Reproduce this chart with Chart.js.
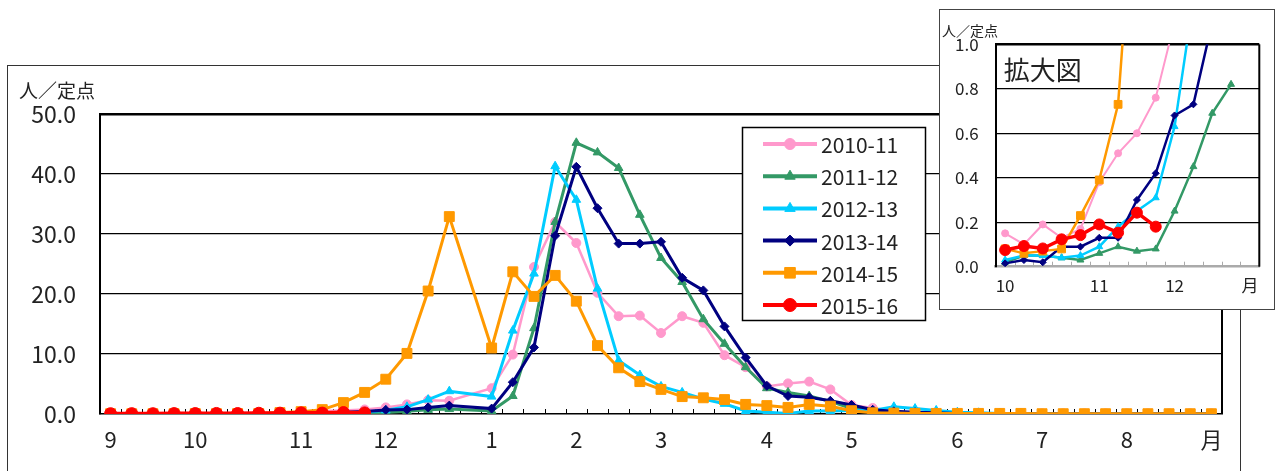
<!DOCTYPE html>
<html>
<head>
<meta charset="utf-8">
<script src="https://cdn.jsdelivr.net/npm/chart.js@4.4.1/dist/chart.umd.min.js"></script>
<style>
  body { margin: 0; background: #fff; }
  #wrap { position: relative; width: 1276px; height: 471px; overflow: hidden; }
  #mainChart { position: absolute; left: 0; top: 0; }
  #zoomChart { position: absolute; left: 939px; top: 9px; background: #fff; }
</style>
</head>
<body>
<div id="wrap">
  <canvas id="mainChart" width="1276" height="471"></canvas>
  <canvas id="zoomChart" width="336" height="301"></canvas>
</div>
<script>
// weekly ticks, Sep -> Aug (only month starts are labelled)
var monthTicks = ['9','','','', '10','','','','', '11','','','', '12','','','','',
  '1','','','', '2','','','', '3','','','','', '4','','','', '5','','','','',
  '6','','','', '7','','','', '8','','','', '月'];
// ticks of the zoomed chart (Oct -> Dec)
var zoomTicks = ['10','','','','','11','','','','12','','','','月'];

var seasons = ['2010-11', '2011-12', '2012-13', '2013-14', '2014-15', '2015-16'];

// 人/定点 per week (null = new-year week, not reported)
var s1011 = [0.08,0.10,0.12,0.13, 0.15,0.10,0.19,0.13,0.17, 0.38,0.51,0.60,0.76,
  1.1,1.6,2.3,2.2,null, 4.3,9.9,24.5,32.0, 28.5,20.2,16.3,16.4, 13.5,16.3,15.2,9.8,7.8,
  4.6,5.1,5.4,4.1, 1.5,1.0,0.4,0.3,0.2, 0.1,0.1,0.1,0.1, 0.1,0.1,0.1,0.1, 0.1,0.1,0.1,0.1, 0.1];
var s1112 = [0.02,0.02,0.03,0.02, 0.02,0.05,0.05,0.04,0.03, 0.06,0.09,0.07,0.08,
  0.25,0.45,0.69,0.82,null, 0.5,3.0,14.3,32.0, 45.2,43.6,41.0,33.2, 26.0,22.0,15.8,11.7,7.8,
  4.3,3.6,3.0,2.1, 0.9,0.5,0.3,0.2,0.1, 0.1,0.1,0.0,0.0, 0.0,0.0,0.0,0.0, 0.0,0.0,0.0,0.0, 0.0];
var s1213 = [0.03,0.03,0.02,0.03, 0.03,0.05,0.05,0.04,0.05, 0.09,0.18,0.25,0.31,
  0.63,1.2,2.4,3.8,null, 2.9,13.9,23.4,41.3, 35.7,20.9,8.9,6.5, 4.6,3.6,2.5,1.7,0.5,
  0.3,0.1,0.5,0.5, 0.6,0.6,1.2,0.9,0.6, 0.3,0.2,0.1,0.1, 0.0,0.0,0.0,0.0, 0.0,0.0,0.0,0.0, 0.0];
var s1314 = [0.01,0.01,0.02,0.01, 0.015,0.03,0.02,0.09,0.09, 0.13,0.13,0.30,0.42,
  0.68,0.73,1.1,1.4,null, 0.9,5.3,11.1,29.7, 41.2,34.3,28.4,28.4, 28.7,22.7,20.6,14.6,9.4,
  4.7,3.0,2.8,2.2, 1.5,0.7,0.45,0.3,0.2, 0.1,0.1,0.1,0.0, 0.0,0.0,0.0,0.0, 0.0,0.0,0.0,0.0, 0.0];
var s1415 = [0.05,0.04,0.05,0.06, 0.08,0.06,0.07,0.08,0.23, 0.39,0.73,1.9,3.6,
  5.8,10.1,20.5,32.9,null, 11.0,23.7,19.6,23.1, 18.8,11.4,7.7,5.4, 4.1,2.9,2.7,2.4,1.6,
  1.4,1.1,1.6,1.3, 0.55,0.2,0.15,0.1,0.1, 0.1,0.1,0.1,0.1, 0.05,0.05,0.05,0.05, 0.05,0.05,0.05,0.05, 0.05];
var s1516 = [0.05,0.06,0.05,0.07, 0.075,0.093,0.082,0.123,0.142, 0.19,0.153,0.243,0.18];

var allSeries = [s1011, s1112, s1213, s1314, s1415, s1516];

// look of each season
var looks = [
  { color: '#FF99CC', style: 'circle',   r: 4.5, zr: 3.5, w: 2.5, lr: 5.5 },
  { color: '#339966', style: 'triangle', r: 5,   zr: 4,   w: 3,   lr: 6 },
  { color: '#00CCFF', style: 'triangle', r: 5,   zr: 4,   w: 3,   lr: 6 },
  { color: '#000080', style: 'rectRot',  r: 4.5, zr: 3.5, w: 3,   lr: 5.5 },
  { color: '#FF9900', style: 'rect',     r: 7,   zr: 5.5, w: 3,   lr: 7.5 },
  { color: '#FF0000', style: 'circle',   r: 6,   zr: 5.5, w: 4,   lr: 6.5 }
];

var FONT = '"Noto Sans CJK JP", "Liberation Sans", sans-serif';

function makeSets(zoomed) {
  return allSeries.map(function (d, i) {
    var lk = looks[i];
    return {
      label: seasons[i],
      data: zoomed ? d.slice(4, 18) : d,
      borderColor: lk.color,
      backgroundColor: lk.color,
      pointBackgroundColor: lk.color,
      pointBorderColor: lk.color,
      pointStyle: lk.style,
      pointRadius: zoomed ? lk.zr : lk.r,
      pointBorderWidth: 1,
      borderWidth: zoomed ? lk.w - 0.5 : lk.w,
      tension: 0,
      spanGaps: true,
      fill: false,
      order: 5 - i
    };
  });
}

// inward tick marks between weeks
function innerTicks(chart, color) {
  var ctx = chart.ctx, xs = chart.scales.x, b = chart.chartArea.bottom;
  var step = xs.getPixelForValue(1) - xs.getPixelForValue(0);
  ctx.save();
  ctx.strokeStyle = color;
  ctx.lineWidth = 1;
  ctx.beginPath();
  for (var i = 0; i < xs.getLabels().length - 1; i++) {
    var px = Math.round(xs.getPixelForValue(i) + step / 2) + 0.5;
    ctx.moveTo(px, b);
    ctx.lineTo(px, b - 5);
  }
  ctx.stroke();
  ctx.restore();
}

var mainDecor = {
  id: 'mainDecor',
  beforeDraw: function (chart) {
    var ctx = chart.ctx;
    ctx.save();
    ctx.strokeStyle = '#333';
    ctx.lineWidth = 1;
    ctx.strokeRect(7.5, 65.5, 1233, 430);
    ctx.fillStyle = '#222';
    ctx.font = '19px ' + FONT;
    ctx.textBaseline = 'middle';
    ctx.fillText('人／定点', 19, 91);
    ctx.restore();
  },
  beforeDatasetsDraw: function (chart) {
    innerTicks(chart, '#000');
    var ctx = chart.ctx, a = chart.chartArea;
    ctx.save();
    ctx.strokeStyle = '#000';
    ctx.lineWidth = 2;
    ctx.beginPath();
    ctx.moveTo(a.right, a.top);
    ctx.lineTo(a.right, a.bottom);
    ctx.stroke();
    ctx.restore();
  },
  afterDatasetsDraw: function (chart) {
    var ctx = chart.ctx;
    ctx.save();
    ctx.fillStyle = '#fff';
    ctx.fillRect(742, 127, 184, 194);
    ctx.strokeStyle = '#000';
    ctx.lineWidth = 1.5;
    ctx.strokeRect(742.5, 127.5, 183, 193);
    ctx.font = '21px ' + FONT;
    ctx.textBaseline = 'middle';
    looks.forEach(function (lk, i) {
      var y = 144 + i * 32.2;
      ctx.strokeStyle = lk.color;
      ctx.fillStyle = lk.color;
      ctx.lineWidth = 4;
      ctx.beginPath();
      ctx.moveTo(763, y);
      ctx.lineTo(817, y);
      ctx.stroke();
      ctx.lineWidth = 1;
      Chart.helpers.drawPoint(ctx, { pointStyle: lk.style, radius: lk.lr, rotation: 0, borderWidth: 1 }, 790, y);
      ctx.fillStyle = '#222';
      ctx.fillText(seasons[i], 821, y + 1);
    });
    ctx.restore();
  }
};

new Chart(document.getElementById('mainChart'), {
  type: 'line',
  data: { labels: monthTicks, datasets: makeSets(false) },
  options: {
    responsive: false,
    animation: false,
    layout: { padding: { left: 0, right: 54, top: 114, bottom: 0 } },
    plugins: { legend: { display: false }, tooltip: { enabled: false } },
    scales: {
      x: {
        offset: true,
        grid: { display: false, drawTicks: false },
        border: { color: '#000', width: 1.5 },
        ticks: { autoSkip: false, maxRotation: 0, padding: 12, color: '#222', font: { family: FONT, size: 22 } },
        afterFit: function (s) { s.height = 57; }
      },
      y: {
        min: 0, max: 50,
        grid: {
          drawTicks: false,
          color: function (c) { return c.tick && c.tick.value === 0 ? 'rgba(0,0,0,0)' : '#000'; },
          lineWidth: function (c) { return c.tick && c.tick.value === 50 ? 2.5 : 1.3; }
        },
        border: { color: '#000', width: 2 },
        ticks: { stepSize: 10, padding: 24, color: '#222', font: { family: FONT, size: 23 },
          callback: function (v) { return v.toFixed(1); } },
        afterFit: function (s) { s.width = 100; }
      }
    }
  },
  plugins: [mainDecor]
});

var zoomDecor = {
  id: 'zoomDecor',
  beforeDraw: function (chart) {
    var ctx = chart.ctx;
    ctx.save();
    ctx.fillStyle = '#fff';
    ctx.fillRect(0, 0, chart.width, chart.height);
    ctx.strokeStyle = '#444';
    ctx.lineWidth = 1;
    ctx.strokeRect(0.5, 0.5, chart.width - 1, chart.height - 1);
    ctx.fillStyle = '#222';
    ctx.font = '14px ' + FONT;
    ctx.textBaseline = 'middle';
    ctx.fillText('人／定点', 3, 22);
    ctx.restore();
  },
  beforeDatasetsDraw: function (chart) {
    innerTicks(chart, '#aaa');
    var ctx = chart.ctx, a = chart.chartArea;
    ctx.save();
    ctx.strokeStyle = '#000';
    ctx.lineWidth = 2;
    ctx.beginPath();
    ctx.moveTo(a.right, a.top);
    ctx.lineTo(a.right, a.bottom);
    ctx.stroke();
    ctx.fillStyle = '#222';
    ctx.font = '26px ' + FONT;
    ctx.textBaseline = 'middle';
    ctx.fillText('拡大図', a.left + 8, a.top + 26);
    ctx.restore();
  }
};

new Chart(document.getElementById('zoomChart'), {
  type: 'line',
  data: { labels: zoomTicks, datasets: makeSets(true) },
  options: {
    responsive: false,
    animation: false,
    layout: { padding: { left: 0, right: 15.7, top: 35.3, bottom: 0 } },
    plugins: { legend: { display: false }, tooltip: { enabled: false } },
    scales: {
      x: {
        offset: true,
        grid: { display: false, drawTicks: false },
        border: { color: '#aaa', width: 2.5 },
        ticks: { autoSkip: false, maxRotation: 0, padding: 9, color: '#222', font: { family: FONT, size: 17 } },
        afterFit: function (s) { s.height = 43.3; }
      },
      y: {
        min: 0, max: 1,
        grid: {
          drawTicks: false,
          color: function (c) { return c.tick && c.tick.value === 0 ? 'rgba(0,0,0,0)' : '#000'; },
          lineWidth: function (c) { return c.tick && c.tick.value === 1 ? 2.5 : 1.3; }
        },
        border: { color: '#000', width: 2 },
        ticks: { stepSize: 0.2, padding: 17, color: '#222', font: { family: FONT, size: 17 },
          callback: function (v) { return v.toFixed(1); } },
        afterFit: function (s) { s.width = 56.7; }
      }
    }
  },
  plugins: [zoomDecor]
});
</script>
</body>
</html>
